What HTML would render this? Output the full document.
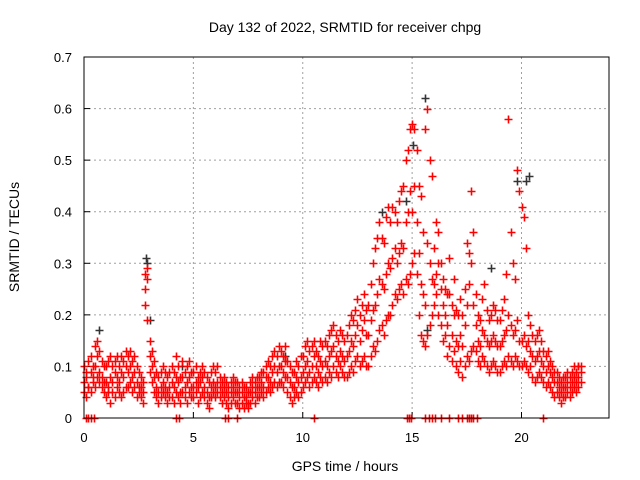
<!DOCTYPE html>
<html><head><meta charset="utf-8"><style>
body{margin:0;background:#fff}
svg{display:block;font-family:"Liberation Sans",sans-serif}
</style></head><body>
<svg id="chart" width="640" height="480" viewBox="0 0 640 480" xmlns="http://www.w3.org/2000/svg">
<rect width="640" height="480" fill="#fff"/>
<text x="345" y="32" font-size="14" text-anchor="middle">Day 132 of 2022, SRMTID for receiver chpg</text>
<g id="grid"></g>
<g id="ticks"></g>
<g id="marks"></g>
<rect x="84" y="57" width="525" height="361" fill="none" stroke="#000" stroke-width="1"/>
<text x="345" y="471" font-size="14" text-anchor="middle">GPS time / hours</text>
<text transform="translate(19,237) rotate(-90)" font-size="14" text-anchor="middle">SRMTID / TECUs</text>
</svg>
<script>
const xTicks=[0,5,10,15,20];
const yTicks=[0,0.1,0.2,0.3,0.4,0.5,0.6,0.7];
const yTickLabels=["0","0.1","0.2","0.3","0.4","0.5","0.6","0.7"];
const tStart=0, tStep=0.1;
const redLow=[.05,.04,.06,.05,.07,.06,.08,.07,.06,.05,
.04,.05,.03,.05,.04,.06,.05,.04,.05,.06,
.06,.07,.05,.06,.04,.05,.04,.03,.22,.19,
.09,.07,.05,.04,.03,.04,.05,.04,.03,.04,
.04,.03,.05,.04,.03,.05,.04,.03,.05,.04,
.04,.05,.03,.04,.05,.04,.03,.02,.04,.05,
.04,.05,.04,.03,.04,.03,.02,.03,.04,.03,
.03,.02,.03,.02,.03,.02,.03,.04,.03,.04,
.04,.05,.04,.05,.06,.05,.06,.07,.06,.07,
.07,.06,.08,.05,.04,.03,.04,.05,.04,.05,
.06,.07,.08,.06,.07,.08,.07,.06,.08,.07,
.08,.07,.09,.08,.10,.09,.08,.10,.09,.08,
.08,.09,.10,.09,.11,.12,.10,.11,.12,.10,
.10,.12,.14,.13,.15,.17,.18,.16,.19,.20,
.20,.22,.24,.23,.25,.26,.24,.27,.26,.28,
.30,.32,.28,.20,.16,.15,.14,.16,.18,.20,
.22,.24,.20,.18,.15,.16,.12,.14,.11,.13,
.10,.09,.11,.08,.10,.12,.11,.13,.14,.13,
.11,.10,.12,.11,.10,.09,.10,.11,.10,.09,
.09,.10,.11,.10,.12,.11,.10,.12,.11,.10,
.10,.11,.10,.09,.10,.08,.07,.08,.09,.08,
.07,.06,.07,.06,.05,.04,.05,.04,.03,.04,
.04,.05,.04,.05,.06,.05,.06,.07];
const redMid=[.07,.08,.06,.09,.08,.10,.12,.09,.08,.07,
.07,.06,.08,.07,.09,.08,.07,.09,.08,.10,
.09,.10,.08,.09,.07,.06,.06,.05,.25,.27,
.12,.10,.08,.06,.05,.06,.07,.06,.05,.06,
.07,.06,.08,.07,.05,.08,.06,.07,.08,.06,
.06,.07,.06,.07,.08,.06,.05,.04,.06,.07,
.06,.07,.06,.05,.06,.05,.04,.05,.06,.05,
.05,.04,.05,.04,.04,.03,.05,.06,.05,.06,
.06,.07,.06,.08,.08,.07,.09,.10,.09,.10,
.10,.09,.11,.08,.07,.06,.06,.08,.07,.08,
.09,.10,.11,.09,.10,.12,.10,.09,.11,.10,
.11,.10,.12,.13,.14,.12,.11,.13,.12,.11,
.12,.13,.15,.14,.16,.18,.15,.17,.19,.16,
.16,.19,.21,.22,.24,.27,.26,.25,.28,.30,
.29,.31,.33,.30,.32,.34,.33,.38,.40,.44,
.40,.45,.38,.32,.26,.24,.22,.34,.30,.27,
.26,.28,.30,.25,.22,.20,.18,.24,.16,.20,
.15,.14,.16,.14,.18,.22,.26,.30,.22,.18,
.15,.14,.17,.16,.15,.14,.15,.16,.15,.14,
.14,.15,.16,.17,.20,.18,.16,.17,.19,.15,
.15,.16,.14,.15,.13,.12,.11,.12,.13,.11,
.10,.09,.10,.09,.08,.07,.07,.06,.05,.06,
.06,.07,.06,.07,.08,.07,.08,.09];
const redHigh=[.10,.09,.11,.12,.10,.14,.15,.13,.11,.10,
.10,.11,.12,.10,.11,.12,.10,.12,.11,.13,
.12,.13,.11,.12,.10,.09,.08,.07,.28,.29,
.15,.13,.11,.09,.08,.09,.10,.09,.08,.09,
.10,.09,.12,.10,.08,.11,.09,.10,.11,.09,
.09,.10,.08,.09,.10,.09,.08,.07,.09,.10,
.09,.10,.08,.07,.08,.07,.06,.07,.08,.07,
.07,.06,.07,.06,.06,.05,.07,.08,.07,.08,
.08,.09,.09,.10,.11,.10,.12,.13,.12,.14,
.13,.12,.14,.11,.10,.09,.09,.11,.10,.12,
.12,.14,.15,.13,.14,.15,.13,.12,.15,.14,
.15,.14,.16,.17,.18,.16,.15,.17,.16,.15,
.16,.18,.20,.19,.21,.23,.20,.22,.24,.21,
.22,.26,.30,.33,.35,.38,.35,.34,.39,.41,
.38,.41,.40,.38,.42,.44,.45,.50,.52,.56,
.57,.56,.52,.45,.43,.36,.56,.60,.50,.47,
.33,.38,.36,.30,.27,.25,.24,.31,.22,.27,
.21,.20,.23,.20,.25,.34,.32,.44,.36,.24,
.20,.19,.23,.26,.21,.19,.20,.22,.21,.19,
.19,.21,.23,.28,.58,.36,.30,.27,.48,.44,
.41,.39,.33,.20,.18,.16,.15,.16,.17,.15,
.13,.12,.13,.11,.10,.09,.09,.08,.07,.08,
.08,.09,.08,.09,.10,.09,.10,.10];
const blackTimes=[0.7,2.85,2.9,3.0,15.05,15.6,15.7,19.8,20.2,20.35,14.7,13.6,18.6,22.6,4.5,9.2];
const blackValues=[0.17,0.31,0.30,0.19,0.53,0.62,0.17,0.46,0.46,0.47,0.42,0.40,0.29,0.10,0.10,0.12];
const zeroTimes=[0.1,0.2,0.3,0.45,4.2,4.35,6.45,6.6,7.0,10.5,14.75,14.85,14.95,15.6,15.75,15.9,16.05,16.3,16.7,17.1,17.3,17.5,17.6,17.7,17.8,17.95,21.0];

const X0=84,X1=609,Y0=418,Y1=57,XMAX=24,YMAX=0.7;
const xs=v=>X0+(X1-X0)*v/XMAX;
const ys=v=>Y0-(Y0-Y1)*v/YMAX;
const NS="http://www.w3.org/2000/svg";
function mk(tag,parent,attrs){const e=document.createElementNS(NS,tag);for(const k in attrs)e.setAttribute(k,attrs[k]);parent.appendChild(e);return e;}
const grid=document.getElementById('grid'),ticks=document.getElementById('ticks'),marks=document.getElementById('marks');
xTicks.forEach(t=>{
  const x=xs(t);
  if(t>0){const g=mk('line',grid,{x1:x,x2:x,y1:Y1,y2:Y0,stroke:'#a0a0a0','stroke-dasharray':'2,3'});
  
  }
  const l=mk('text',ticks,{x:x,y:Y0+24,'font-size':13,'text-anchor':'middle'});l.textContent=t;
  
  
  mk('line',ticks,{x1:x,x2:x,y1:Y0,y2:Y0-6,stroke:'#000'});
});
yTicks.forEach((t,i)=>{
  const y=ys(t);
  if(t>0){const g=mk('line',grid,{x1:X0,x2:X1,y1:y,y2:y,stroke:'#a0a0a0','stroke-dasharray':'2,3'});
  
  }
  const l=mk('text',ticks,{x:X0-12,y:y+5,'font-size':13,'text-anchor':'end'});l.textContent=yTickLabels[i];
  
  
  mk('line',ticks,{x1:X0,x2:X0+6,y1:y,y2:y,stroke:'#000'});
});
function plus(t,v,color,name){
  const x=Math.round(xs(t))+0.5,y=Math.round(ys(v))+0.5;
  const p=mk('path',marks,{d:`M${x-4} ${y}h8M${x} ${y-4}v8`,stroke:color,'stroke-width':1.6,fill:'none'});
  
  
}
blackTimes.forEach((t,i)=>plus(t,blackValues[i],'#333','black-point'));
[redLow,redMid,redHigh].forEach(arr=>arr.forEach((v,i)=>plus(tStart+i*tStep,v,'#ff0000','red-point')));
zeroTimes.forEach(t=>plus(t,0,'#ff0000','zero-point'));
</script>
</body></html>
